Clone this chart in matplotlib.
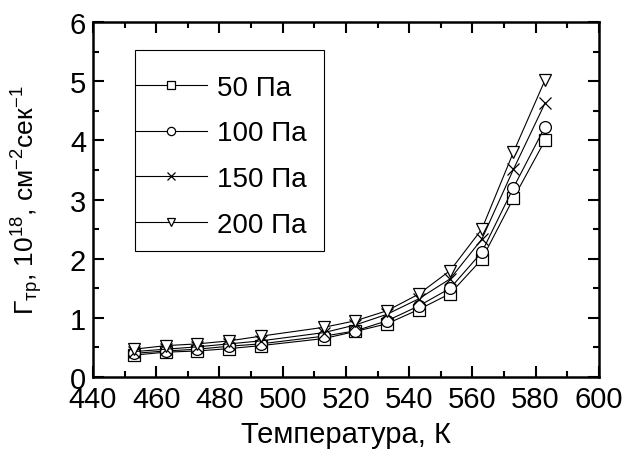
import numpy as np
import matplotlib
matplotlib.use('Agg')
import matplotlib.pyplot as plt
from matplotlib.ticker import MultipleLocator
from matplotlib.patches import Rectangle

plt.rcParams['font.family'] = ['Liberation Sans', 'DejaVu Sans']
plt.rcParams['mathtext.fontset'] = 'custom'
plt.rcParams['mathtext.rm'] = 'Liberation Sans'
plt.rcParams['mathtext.it'] = 'Liberation Sans'

# Temperature, K
temperature = [453, 463, 473, 483, 493, 513, 523, 533, 543, 553, 563, 573, 583]

# Flux, 10^18 cm^-2 s^-1, per pressure
flux_50 = [0.37, 0.42, 0.44, 0.48, 0.53, 0.65, 0.77, 0.90, 1.14, 1.41, 1.99, 3.02, 4.00]
flux_100 = [0.40, 0.44, 0.47, 0.52, 0.56, 0.69, 0.78, 0.95, 1.20, 1.50, 2.11, 3.20, 4.23]
flux_150 = [0.43, 0.47, 0.51, 0.56, 0.61, 0.75, 0.88, 1.06, 1.32, 1.66, 2.33, 3.51, 4.63]
flux_200 = [0.47, 0.53, 0.56, 0.61, 0.69, 0.84, 0.95, 1.12, 1.40, 1.80, 2.50, 3.80, 5.02]

labels = ['50 Па', '100 Па', '150 Па', '200 Па']
markers = ['s', 'o', 'x', 'v']

fig = plt.figure(figsize=(6.37, 4.52), dpi=100)
ax = fig.add_axes([0.146, 0.1637, 0.794, 0.7853])

for y, lab, m in zip([flux_50, flux_100, flux_150, flux_200], labels, markers):
    ax.plot(temperature, y, color='black', lw=0.8, marker=m, ms=8.5,
            mfc='white', mec='black', mew=0.9, label=lab)

ax.set_xlim(440, 600)
ax.set_ylim(0, 6)
ax.xaxis.set_major_locator(MultipleLocator(20))
ax.xaxis.set_minor_locator(MultipleLocator(10))
ax.yaxis.set_major_locator(MultipleLocator(1))
ax.yaxis.set_minor_locator(MultipleLocator(0.5))
ax.tick_params(which='both', direction='in', top=True, right=True,
               labelsize=21, width=1.5)
ax.tick_params(axis='x', pad=6)
ax.tick_params(axis='y', pad=5)
ax.tick_params(which='major', length=8)
ax.tick_params(which='minor', length=4)
for s in ax.spines.values():
    s.set_linewidth(1.8)

ax.set_xlabel('Температура, К', fontsize=21, labelpad=5)
ax.set_ylabel(r'Γ$_{\mathrm{тр}}$, 10$^{18}$, см$^{-2}$сек$^{-1}$', fontsize=19, labelpad=18)

# legend box drawn square-cornered, lines touch the frame
ax.add_patch(Rectangle((0.083, 0.355), 0.3735, 0.566, transform=ax.transAxes,
                       fill=False, edgecolor='black', lw=0.8, zorder=4))
leg = ax.legend(loc='upper left', bbox_to_anchor=(0.085, 0.852), fontsize=20,
                frameon=False, markerscale=0.7,
                handlelength=2.55, handletextpad=0.35, labelspacing=0.71,
                borderpad=0, borderaxespad=0)

fig.savefig('out.png', dpi=100)
